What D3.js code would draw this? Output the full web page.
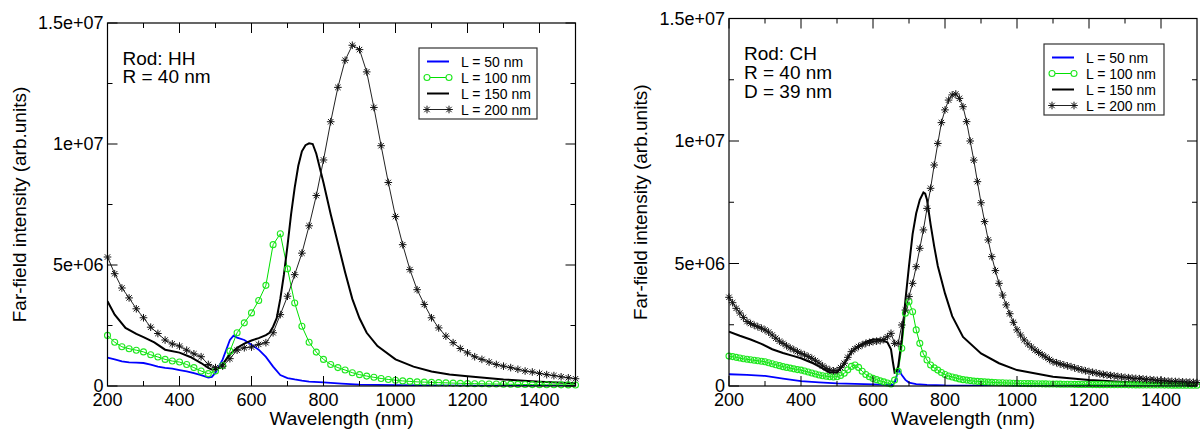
<!DOCTYPE html>
<html><head><meta charset="utf-8">
<script src="https://cdn.jsdelivr.net/npm/d3@7"></script>
<style>
html,body{margin:0;padding:0;background:#fff;}
svg text{font-family:"Liberation Sans",Arial,Helvetica,sans-serif;fill:#000;}
</style></head>
<body>
<svg id="chart" width="1200" height="431"></svg>
<script>
// ---------- DATA (values in units of 1e6) ----------
const xTicks = [200, 400, 600, 800, 1000, 1200, 1400];
const yTicks = [0, 5e6, 1e7, 1.5e7];
const yTickLabels = ["0", "5e+06", "1e+07", "1.5e+07"];
const seriesNames = ["L = 50 nm", "L = 100 nm", "L = 150 nm", "L = 200 nm"];

// Panel 1: Rod HH
const hhGrid = d3.range(200, 1501, 20);
const hh50Wl = [200,220,240,260,280,300,320,340,360,380,400,420,440,460,480,490,500,520,540,550,560,580,600,620,640,660,680,700,720,740,760,800,850,900,1000,1100,1200,1300,1500];
const hh50 = [1.17,1.10,1.02,0.98,0.97,0.95,0.88,0.80,0.75,0.72,0.66,0.60,0.53,0.45,0.35,0.38,0.55,1.1,1.9,2.08,2.0,1.9,1.7,1.5,1.2,0.8,0.45,0.33,0.27,0.22,0.18,0.15,0.10,0.06,0.04,0.02,0.01,0.005,0.0];
const hh100 = [2.09,1.81,1.62,1.54,1.48,1.41,1.29,1.20,1.10,1.03,
  0.99,0.89,0.76,0.62,0.51,0.62,0.85,1.44,2.2,2.61,
  3.02,3.53,4.16,5.84,6.29,4.84,3.43,2.47,1.81,1.40,
  1.10,0.89,0.76,0.66,0.55,0.47,0.41,0.36,0.31,0.27,
  0.24,0.21,0.19,0.17,0.16,0.15,0.14,0.13,0.12,0.11,
  0.10,0.095,0.09,0.085,0.08,0.075,0.07,0.066,0.062,0.058,
  0.055,0.052,0.05,0.048,0.046,0.044];
const hh150Wl = [200,220,250,280,300,330,360,400,430,460,480,490,500,510,520,540,560,580,600,620,640,650,660,670,680,690,700,710,720,730,740,750,760,770,780,790,800,820,840,860,880,900,920,950,1000,1050,1100,1150,1200,1300,1400,1500];
const hh150 = [3.5,2.95,2.4,2.15,2.02,1.8,1.5,1.38,1.2,0.95,0.75,0.68,0.68,0.75,0.9,1.3,1.58,1.75,1.88,1.98,2.1,2.2,2.45,2.8,3.6,4.6,5.8,7.1,8.2,9.1,9.7,9.95,10.03,10.0,9.6,9.0,8.4,7.1,5.9,4.7,3.6,2.8,2.2,1.65,1.1,0.8,0.6,0.48,0.4,0.27,0.18,0.11];
const hh200 = [5.33,4.64,4.05,3.64,3.19,2.82,2.43,2.17,1.90,1.74,
  1.65,1.48,1.33,1.21,0.89,0.76,0.82,1.13,1.48,1.58,
  1.61,1.72,1.79,2.2,2.95,3.71,4.6,5.49,6.62,7.87,
  9.34,10.92,12.34,13.46,14.08,13.9,12.98,11.51,9.93,8.41,
  7.0,5.84,4.81,3.98,3.37,2.82,2.4,2.06,1.79,1.55,
  1.37,1.21,1.10,0.99,0.89,0.82,0.76,0.69,0.62,0.58,
  0.52,0.47,0.43,0.38,0.34,0.30];

// Panel 2: Rod CH
const chGrid = d3.range(200, 1501, 10);
const ch50Wl = [200,250,300,350,400,450,500,550,600,640,655,662,668,672,680,690,700,720,750,800,900,1000,1500];
const ch50 = [0.48,0.45,0.41,0.3,0.2,0.15,0.11,0.09,0.07,0.05,0.04,0.2,0.55,0.65,0.45,0.25,0.14,0.08,0.05,0.02,0.01,0.005,0];
const ch100 = [1.22,1.2,1.17,1.14,1.11,1.09,1.07,1.05,1.03,1.01,
  0.99,0.95,0.91,0.87,0.83,0.79,0.76,0.73,0.70,0.67,
  0.65,0.61,0.57,0.53,0.49,0.45,0.42,0.40,0.38,0.37,
  0.38,0.43,0.52,0.66,0.80,0.86,0.76,0.6,0.47,0.38,
  0.31,0.26,0.21,0.17,0.12,0.08,0.24,0.6,1.54,2.97,
  3.44,3.03,2.29,1.74,1.31,1.06,0.86,0.74,0.65,0.55,
  0.47,0.41,0.37,0.33,0.29,0.26,0.24,0.22,0.2,0.19,
  0.18,0.17,0.16,0.15,0.14,0.135,0.13,0.125,0.12,0.115,
  0.11,0.105,0.1,0.098,0.095,0.092,0.09,0.087,0.085,0.082,
  0.08,0.078,0.076,0.074,0.072,0.07,0.068,0.066,0.064,0.062,
  0.06,0.058,0.057,0.056,0.055,0.054,0.052,0.051,0.05,0.049,
  0.048,0.047,0.046,0.045,0.044,0.043,0.042,0.041,0.04,0.039,
  0.038,0.037,0.036,0.035,0.035,0.034,0.033,0.033,0.032,0.031,
  0.03];
const ch150Wl = [200,230,260,290,320,350,380,400,430,460,480,500,520,540,560,580,600,620,640,650,655,660,665,670,680,690,700,710,720,730,740,745,750,760,770,780,800,820,850,900,950,1000,1100,1200,1300,1400,1500];
const ch150 = [2.22,2.05,1.9,1.72,1.5,1.35,1.22,1.13,0.95,0.72,0.55,0.55,0.9,1.4,1.62,1.8,1.9,1.9,1.78,1.5,1.0,0.55,0.6,0.8,1.9,3.5,4.9,6.2,7.05,7.6,7.9,7.85,7.6,6.6,5.7,4.9,3.78,2.85,2.0,1.33,0.93,0.65,0.38,0.24,0.16,0.11,0.08];
const ch200 = [3.62,3.4,3.17,2.98,2.8,2.63,2.55,2.48,2.42,2.36,
  2.29,2.2,2.08,1.95,1.83,1.74,1.64,1.55,1.48,1.4,
  1.33,1.27,1.2,1.13,1.03,0.93,0.82,0.72,0.65,0.62,
  0.63,0.75,0.93,1.17,1.4,1.52,1.61,1.68,1.74,1.78,
  1.81,1.83,1.85,1.9,2.01,2.15,1.74,1.74,2.49,3.1,
  3.65,4.19,4.87,5.62,6.37,7.25,8.07,9.02,9.9,10.75,
  11.27,11.67,11.88,11.92,11.74,11.4,10.79,10.0,9.22,8.34,
  7.48,6.71,5.96,5.28,4.71,4.19,3.71,3.31,2.95,2.6,
  2.29,2.08,1.88,1.72,1.59,1.47,1.37,1.27,1.18,1.08,
  0.99,0.95,0.9,0.86,0.82,0.79,0.74,0.7,0.66,0.62,
  0.59,0.56,0.53,0.5,0.47,0.45,0.43,0.41,0.39,0.37,
  0.35,0.34,0.32,0.31,0.3,0.29,0.27,0.26,0.25,0.23,
  0.22,0.21,0.2,0.19,0.185,0.18,0.17,0.16,0.155,0.15,
  0.14];

// ---------- DRAWING ----------
const svg = d3.select("#chart");
const zip = (xs, ys) => xs.map((x, i) => ({x: x, y: ys[i] * 1e6}));
const starPath = "M-3.8,0L3.8,0M0,-3.8L0,3.8M-2.7,-2.7L2.7,2.7M-2.7,2.7L2.7,-2.7";

function drawPanel(cfg, idx) {
  const x = d3.scaleLinear().domain([200, 1500]).range([cfg.x0, cfg.x1]);
  const y = d3.scaleLinear().domain([0, 1.5e7]).range([cfg.y1, cfg.y0]);
  const g = svg.append("g");
  const cid = "clip" + idx;
  svg.append("clipPath").attr("id", cid).append("rect")
    .attr("x", cfg.x0).attr("y", cfg.y0).attr("width", cfg.x1 - cfg.x0).attr("height", cfg.y1 - cfg.y0);

  const line = d3.line().x(d => x(d.x)).y(d => y(d.y));
  const lines = g.append("g").attr("clip-path", `url(#${cid})`);

  // L = 50
  lines.append("path").datum(zip(cfg.s50Wl, cfg.s50)).attr("d", line)
    .attr("fill", "none").attr("stroke", "#0000ff").attr("stroke-width", 1.8);
  // L = 100
  const d100 = zip(cfg.s100Wl, cfg.s100);
  lines.append("path").datum(d100).attr("d", line)
    .attr("fill", "none").attr("stroke", "#00e000").attr("stroke-width", 1);
  g.append("g").selectAll("circle").data(d100).join("circle")
    .attr("cx", d => x(d.x)).attr("cy", d => y(d.y)).attr("r", 3)
    .attr("fill", "none").attr("stroke", "#1fe81f").attr("stroke-width", 1.1);
  // L = 150
  lines.append("path").datum(zip(cfg.s150Wl, cfg.s150)).attr("d", line)
    .attr("fill", "none").attr("stroke", "#000").attr("stroke-width", 2);
  // L = 200
  const d200 = zip(cfg.s200Wl, cfg.s200);
  lines.append("path").datum(d200).attr("d", line)
    .attr("fill", "none").attr("stroke", "#222").attr("stroke-width", 1);
  g.append("g").selectAll("path").data(d200).join("path")
    .attr("transform", d => `translate(${x(d.x)},${y(d.y)})`)
    .attr("d", starPath).attr("stroke", "#111").attr("stroke-width", 1).attr("fill", "none");

  // ticks (inward, all four sides)
  const tk = g.append("g").attr("stroke", "#000").attr("stroke-width", 1);
  const xMinor = d3.range(300, 1500, 200);
  xTicks.forEach(v => {
    tk.append("line").attr("x1", x(v)).attr("x2", x(v)).attr("y1", cfg.y1).attr("y2", cfg.y1 - 10);
    tk.append("line").attr("x1", x(v)).attr("x2", x(v)).attr("y1", cfg.y0).attr("y2", cfg.y0 + 10);
  });
  xMinor.forEach(v => {
    tk.append("line").attr("x1", x(v)).attr("x2", x(v)).attr("y1", cfg.y1).attr("y2", cfg.y1 - 5);
    tk.append("line").attr("x1", x(v)).attr("x2", x(v)).attr("y1", cfg.y0).attr("y2", cfg.y0 + 5);
  });
  yTicks.forEach(v => {
    tk.append("line").attr("y1", y(v)).attr("y2", y(v)).attr("x1", cfg.x0).attr("x2", cfg.x0 + 10);
    tk.append("line").attr("y1", y(v)).attr("y2", y(v)).attr("x1", cfg.x1).attr("x2", cfg.x1 - 10);
  });
  [2.5e6, 7.5e6, 1.25e7].forEach(v => {
    tk.append("line").attr("y1", y(v)).attr("y2", y(v)).attr("x1", cfg.x0).attr("x2", cfg.x0 + 5);
    tk.append("line").attr("y1", y(v)).attr("y2", y(v)).attr("x1", cfg.x1).attr("x2", cfg.x1 - 5);
  });

  // frame
  g.append("rect").attr("x", cfg.x0).attr("y", cfg.y0)
    .attr("width", cfg.x1 - cfg.x0).attr("height", cfg.y1 - cfg.y0)
    .attr("fill", "none").attr("stroke", "#000").attr("stroke-width", 1.2);

  // tick labels
  xTicks.forEach(v => {
    g.append("text").attr("x", x(v)).attr("y", cfg.y1 + 20).attr("text-anchor", "middle")
      .attr("font-size", 18).text(v);
  });
  yTicks.forEach((v, i) => {
    g.append("text").attr("x", cfg.x0 - 4).attr("y", y(v) + 6).attr("text-anchor", "end")
      .attr("font-size", 18).text(yTickLabels[i]);
  });

  // axis titles
  g.append("text").attr("x", (cfg.x0 + cfg.x1) / 2).attr("y", 425).attr("text-anchor", "middle")
    .attr("font-size", 19).text("Wavelength (nm)");
  g.append("text").attr("transform", `translate(${cfg.x0 - 82},${(cfg.y0 + cfg.y1) / 2}) rotate(-90)`)
    .attr("text-anchor", "middle").attr("font-size", 19).text("Far-field intensity (arb.units)");

  // annotation
  cfg.notes.forEach((t, i) => {
    g.append("text").attr("x", cfg.x0 + 15).attr("y", cfg.noteY + i * cfg.noteDy)
      .attr("font-size", 19).text(t);
  });

  // legend
  const L = cfg.legend;
  const lg = g.append("g");
  lg.append("rect").attr("x", L.x).attr("y", L.y).attr("width", L.w).attr("height", L.h)
    .attr("fill", "#fff").attr("stroke", "#333").attr("stroke-width", 1.2);
  seriesNames.forEach((name, i) => {
    const yy = L.y + 13.5 + i * 16;
    const lx1 = L.x + 8, lx2 = L.x + 30;
    const styles = [
      {c: "#0000ff", w: 2}, {c: "#00e000", w: 1}, {c: "#000", w: 2}, {c: "#222", w: 1}
    ];
    lg.append("line").attr("x1", lx1).attr("x2", lx2).attr("y1", yy).attr("y2", yy)
      .attr("stroke", styles[i].c).attr("stroke-width", styles[i].w);
    if (i === 1) {
      [lx1, lx2].forEach(cx => lg.append("circle").attr("cx", cx).attr("cy", yy).attr("r", 3)
        .attr("fill", "#fff").attr("stroke", "#1fe81f").attr("stroke-width", 1.1));
    }
    if (i === 3) {
      [lx1, lx2].forEach(cx => lg.append("path").attr("transform", `translate(${cx},${yy})`)
        .attr("d", starPath).attr("stroke", "#111").attr("fill", "none"));
    }
    lg.append("text").attr("x", L.x + 42).attr("y", yy + 5).attr("font-size", 14).text(name);
  });
}

drawPanel({
  x0: 107.5, x1: 575.5, y0: 23, y1: 386,
  s50Wl: hh50Wl, s50: hh50, s100Wl: hhGrid, s100: hh100,
  s150Wl: hh150Wl, s150: hh150, s200Wl: hhGrid, s200: hh200,
  notes: ["Rod: HH", "R = 40 nm"], noteY: 65, noteDy: 18,
  legend: {x: 419, y: 48, w: 118, h: 71}
}, 0);

drawPanel({
  x0: 729, x1: 1197, y0: 18.5, y1: 386,
  s50Wl: ch50Wl, s50: ch50, s100Wl: chGrid, s100: ch100,
  s150Wl: ch150Wl, s150: ch150, s200Wl: chGrid, s200: ch200,
  notes: ["Rod: CH", "R = 40 nm", "D = 39 nm"], noteY: 60, noteDy: 19,
  legend: {x: 1044, y: 44, w: 120, h: 71}
}, 1);
</script>
</body></html>
